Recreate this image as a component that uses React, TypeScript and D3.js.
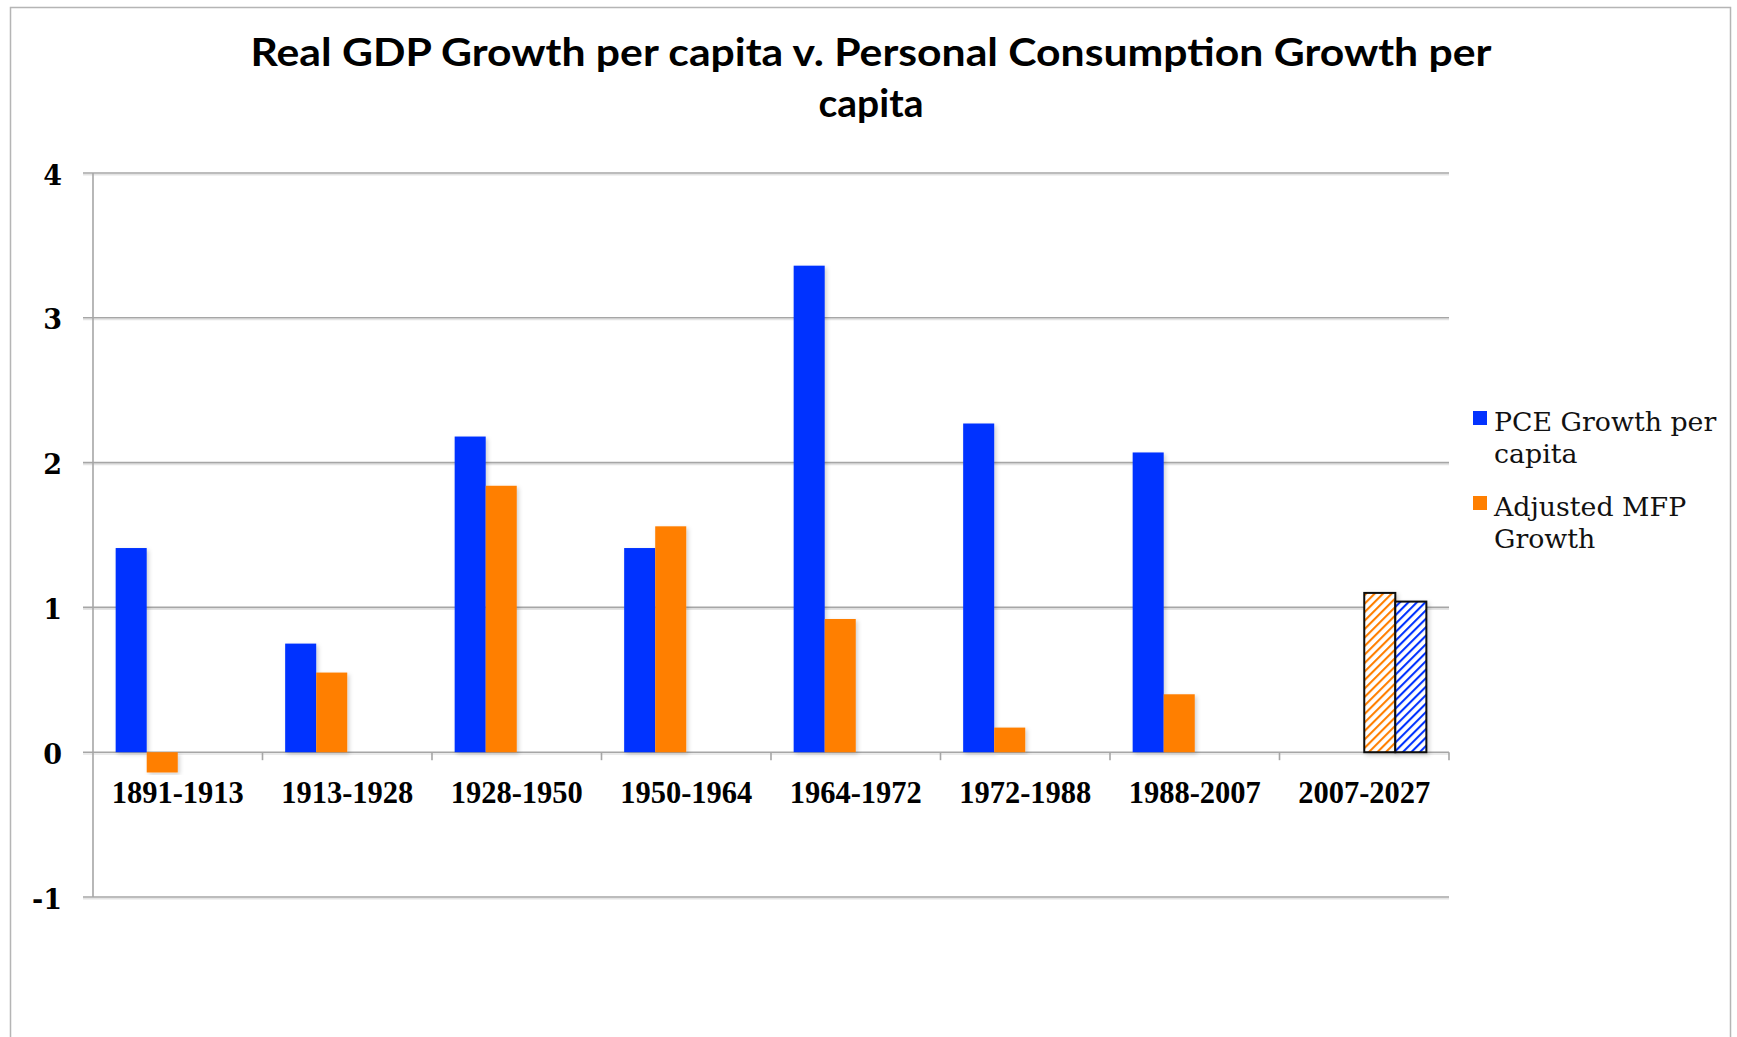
import React, { useEffect, useRef } from "react";
import * as d3 from "d3";

const categories = [
  "1891-1913",
  "1913-1928",
  "1928-1950",
  "1950-1964",
  "1964-1972",
  "1972-1988",
  "1988-2007",
  "2007-2027",
];
const pceGrowth = [1.41, 0.75, 2.18, 1.41, 3.36, 2.27, 2.07, null];
const mfpGrowth = [-0.14, 0.55, 1.84, 1.56, 0.92, 0.17, 0.4, null];
const mfpProjected = [null, null, null, null, null, null, null, 1.1];
const pceProjected = [null, null, null, null, null, null, null, 1.04];
const yTicks = [-1, 0, 1, 2, 3, 4];
const titleLines = [
  "Real GDP Growth per capita v. Personal Consumption Growth per",
  "capita",
];
const legendItems = [
  { label: ["PCE Growth per", "capita"], key: "pce" },
  { label: ["Adjusted MFP", "Growth"], key: "mfp" },
];

const BLUE = "#0433ff";
const ORANGE = "#ff7f00";

const App: React.FC = () => {
  const svgRef = useRef<SVGSVGElement>(null);
  const width = 1737;
  const height = 1037;

  useEffect(() => {
    if (!svgRef.current) return;
    const svg = d3.select(svgRef.current);
    svg.selectAll("*").remove();

    const marginLeft = 93;
    const plotRight = 1449;
    const yTop = 173;
    const yBottom = 897;

    const series = [
      { key: "pce", values: pceGrowth, fill: BLUE, hatch: false },
      { key: "mfp", values: mfpGrowth, fill: ORANGE, hatch: false },
      { key: "mfpProj", values: mfpProjected, fill: "url(#hatchOrange)", hatch: true },
      { key: "pceProj", values: pceProjected, fill: "url(#hatchBlue)", hatch: true },
    ];

    const x0 = d3.scaleBand().domain(categories).range([marginLeft, plotRight]).padding(0);
    const x1 = d3
      .scaleBand()
      .domain(series.map((s) => s.key))
      .range([0, x0.bandwidth()])
      .paddingInner(0)
      .paddingOuter(0.73);
    const y = d3.scaleLinear().domain([-1, 4]).range([yBottom, yTop]);

    // hatch patterns
    const defs = svg.append("defs");
    [
      { id: "hatchOrange", color: ORANGE },
      { id: "hatchBlue", color: BLUE },
    ].forEach((p) => {
      const pat = defs
        .append("pattern")
        .attr("id", p.id)
        .attr("patternUnits", "userSpaceOnUse")
        .attr("width", 6)
        .attr("height", 6)
        .attr("patternTransform", "rotate(45)");
      pat.append("rect").attr("width", 6).attr("height", 6).attr("fill", "#fff");
      pat
        .append("line")
        .attr("x1", 0)
        .attr("y1", 0)
        .attr("x2", 0)
        .attr("y2", 6)
        .attr("stroke", p.color)
        .attr("stroke-width", 4.2);
    });
    const shadow = defs
      .append("filter")
      .attr("id", "shadow")
      .attr("x", "-20%")
      .attr("y", "-5%")
      .attr("width", "150%")
      .attr("height", "115%");
    shadow
      .append("feDropShadow")
      .attr("dx", 2)
      .attr("dy", 2)
      .attr("stdDeviation", 2)
      .attr("flood-color", "#000")
      .attr("flood-opacity", 0.18);

    // frame
    svg
      .append("rect")
      .attr("x", 10.5)
      .attr("y", 7.5)
      .attr("width", 1720)
      .attr("height", 1060)
      .attr("fill", "#fff")
      .attr("stroke", "#b5b5b5")
      .attr("stroke-width", 1.5);

    // title
    svg
      .append("g")
      .selectAll("text")
      .data(titleLines)
      .join("text")
      .attr("x", 871)
      .attr("y", (_, i) => 66 + i * 51)
      .attr("text-anchor", "middle")
      .attr("font-family", "Lato, 'Open Sans', sans-serif")
      .attr("font-weight", 700)
      .attr("font-size", 39)
      .attr("fill", "#000")
      .each(function (d, i) {
        if (i === 0) {
          d3.select(this).attr("textLength", 1241).attr("lengthAdjust", "spacingAndGlyphs");
        }
      })
      .text((d) => d);

    // gridlines + y ticks
    const grid = svg.append("g");
    grid
      .selectAll("line.shade")
      .data(yTicks)
      .join("line")
      .attr("class", "shade")
      .attr("x1", marginLeft - 10)
      .attr("x2", plotRight)
      .attr("y1", (d) => y(d) + 1.8)
      .attr("y2", (d) => y(d) + 1.8)
      .attr("stroke", "#e4e4e4")
      .attr("stroke-width", 1.5);
    grid
      .selectAll("line.grid")
      .data(yTicks)
      .join("line")
      .attr("class", "grid")
      .attr("x1", marginLeft - 10)
      .attr("x2", plotRight)
      .attr("y1", (d) => y(d))
      .attr("y2", (d) => y(d))
      .attr("stroke", "#a6a6a6")
      .attr("stroke-width", 1.6);

    svg
      .append("g")
      .selectAll("text")
      .data(yTicks)
      .join("text")
      .attr("x", 62)
      .attr("y", (d) => y(d) + 2)
      .attr("text-anchor", "end")
      .attr("dominant-baseline", "central")
      .attr("font-family", "'DejaVu Serif', serif")
      .attr("font-weight", 700)
      .attr("font-size", 27)
      .attr("fill", "#000")
      .text((d) => String(d));

    // y axis line
    svg
      .append("line")
      .attr("x1", marginLeft)
      .attr("x2", marginLeft)
      .attr("y1", y(4))
      .attr("y2", y(-1))
      .attr("stroke", "#a6a6a6")
      .attr("stroke-width", 1.6);

    // x tick marks at category boundaries
    svg
      .append("g")
      .selectAll("line")
      .data(categories)
      .join("line")
      .attr("x1", (d) => x0(d)! + x0.bandwidth())
      .attr("x2", (d) => x0(d)! + x0.bandwidth())
      .attr("y1", y(0))
      .attr("y2", y(0) + 8)
      .attr("stroke", "#a6a6a6")
      .attr("stroke-width", 1.6);

    // bars
    const rows = categories.map((c, i) => ({
      category: c,
      items: series.map((s) => ({ key: s.key, value: s.values[i], fill: s.fill, hatch: s.hatch })),
    }));

    svg
      .append("g")
      .selectAll("g")
      .data(rows)
      .join("g")
      .attr("transform", (d) => `translate(${x0(d.category)},0)`)
      .selectAll("rect")
      .data((d) => d.items.filter((it) => it.value !== null))
      .join("rect")
      .attr("x", (d) => x1(d.key)!)
      .attr("width", x1.bandwidth())
      .attr("y", (d) => y(Math.max(0, d.value as number)))
      .attr("height", (d) => Math.abs(y(d.value as number) - y(0)))
      .attr("fill", (d) => d.fill)
      .attr("stroke", (d) => (d.hatch ? "#111" : "none"))
      .attr("stroke-width", (d) => (d.hatch ? 2 : 0))
      .attr("filter", "url(#shadow)");

    // x labels
    svg
      .append("g")
      .selectAll("text")
      .data(categories)
      .join("text")
      .attr("x", (d) => x0(d)! + x0.bandwidth() / 2)
      .attr("y", 803)
      .attr("text-anchor", "middle")
      .attr("font-family", "'Liberation Serif', serif")
      .attr("font-weight", 700)
      .attr("font-size", 30.5)
      .attr("fill", "#000")
      .text((d) => d);

    // legend
    const legend = svg.append("g");
    legendItems.forEach((item, i) => {
      const top = 431 + i * 85;
      legend
        .append("rect")
        .attr("x", 1473)
        .attr("y", top - 20)
        .attr("width", 14)
        .attr("height", 14)
        .attr("fill", item.key === "pce" ? BLUE : ORANGE);
      legend
        .append("text")
        .attr("font-family", "'DejaVu Serif', serif")
        .attr("font-size", 26.8)
        .attr("fill", "#111")
        .selectAll("tspan")
        .data(item.label)
        .join("tspan")
        .attr("x", 1494)
        .attr("y", (_, j) => top + j * 32)
        .text((d) => d);
    });
  }, []);

  return (
    <svg
      ref={svgRef}
      width={width}
      height={height}
      style={{ position: "absolute", left: 0, top: 0, background: "#fff" }}
    />
  );
};

export default App;
